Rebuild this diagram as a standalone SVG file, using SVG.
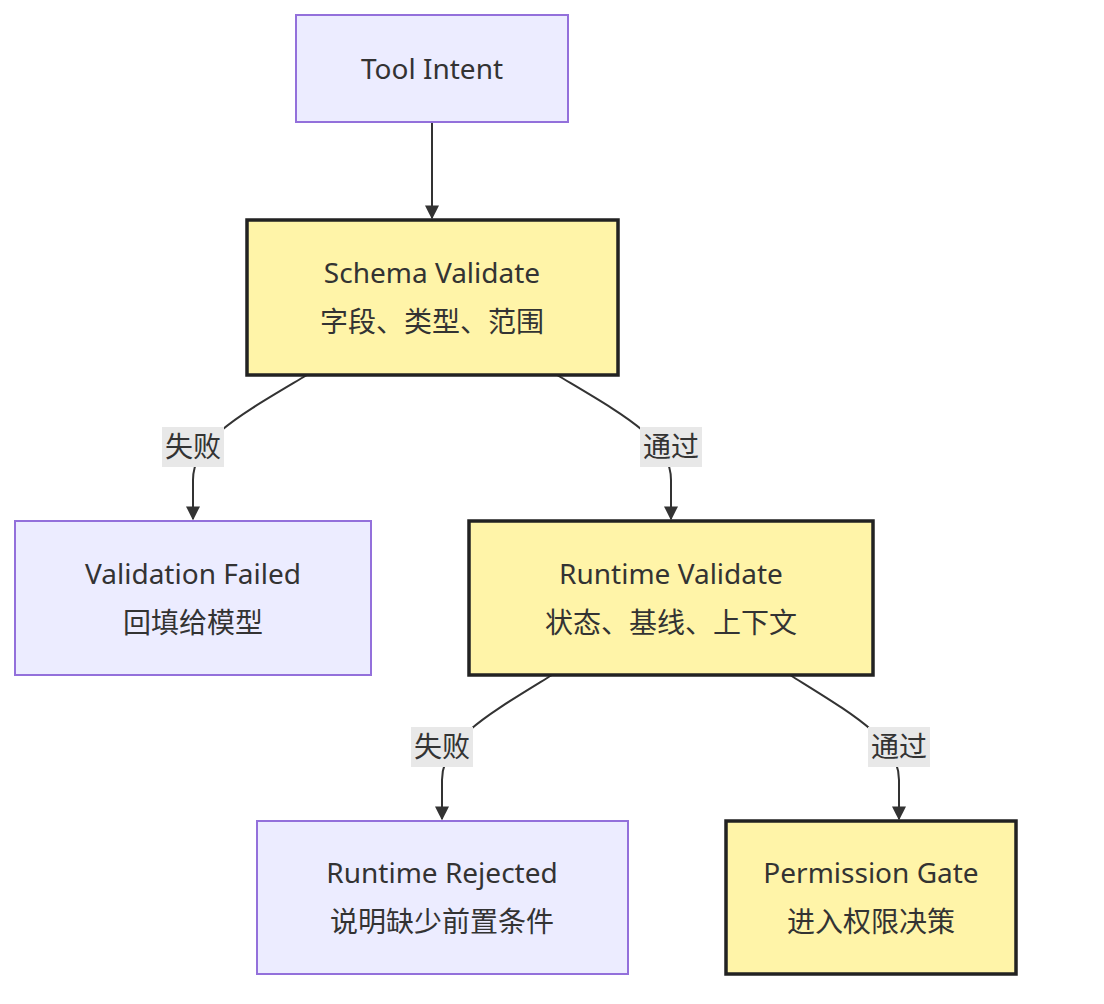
<svg xmlns="http://www.w3.org/2000/svg" width="1104" height="1004" viewBox="0 0 1104 1004">
<defs>
<style>
.p{fill:#ECECFF;stroke:#9370DB;stroke-width:2}
.y{fill:#FFF4A8;stroke:#222;stroke-width:3.5}
text{font-family:"Noto Sans","Noto Sans CJK SC",sans-serif;font-size:28px;fill:#333;text-anchor:middle;dominant-baseline:central}
.e{fill:none;stroke:#333;stroke-width:2}
.lb{fill:#e8e8e8}
</style>
<marker id="a" viewBox="0 0 10 10" refX="9" refY="5" markerWidth="7" markerHeight="7" orient="auto"><path d="M0,0L10,5L0,10z" fill="#333"/></marker>
</defs>
<g id="edges">
<path class="e" d="M432,122V218" marker-end="url(#a)"/>
<path class="e" d="M307,375C240,415 193,440 193,480V519" marker-end="url(#a)"/>
<path class="e" d="M557,375C624,415 671,440 671,480V519" marker-end="url(#a)"/>
<path class="e" d="M552,675C487,715 442,740 442,780V819" marker-end="url(#a)"/>
<path class="e" d="M790,675C854,715 899,740 899,780V819" marker-end="url(#a)"/>
<rect class="lb" x="162" y="427" width="62" height="40"/><text x="193" y="446">失败</text>
<rect class="lb" x="640" y="427" width="62" height="40"/><text x="671" y="446">通过</text>
<rect class="lb" x="411" y="727" width="62" height="40"/><text x="442" y="746">失败</text>
<rect class="lb" x="868" y="727" width="62" height="40"/><text x="899" y="746">通过</text>
</g>
<g id="toolIntent"><rect class="p" x="296" y="15" width="272" height="107"/><text x="432" y="68">Tool Intent</text></g>
<g id="schema"><rect class="y" x="247" y="220" width="371" height="155"/><text x="432" y="272">Schema Validate</text><text x="432" y="321">字段、类型、范围</text></g>
<g id="failed"><rect class="p" x="15" y="521" width="356" height="154"/><text x="193" y="573">Validation Failed</text><text x="193" y="622">回填给模型</text></g>
<g id="runtime"><rect class="y" x="469" y="521" width="404" height="154"/><text x="671" y="573">Runtime Validate</text><text x="671" y="622">状态、基线、上下文</text></g>
<g id="rejected"><rect class="p" x="257" y="821" width="371" height="153"/><text x="442" y="872">Runtime Rejected</text><text x="442" y="921">说明缺少前置条件</text></g>
<g id="permission"><rect class="y" x="726" y="821" width="290" height="153"/><text x="871" y="872">Permission Gate</text><text x="871" y="921">进入权限决策</text></g>
</svg>
